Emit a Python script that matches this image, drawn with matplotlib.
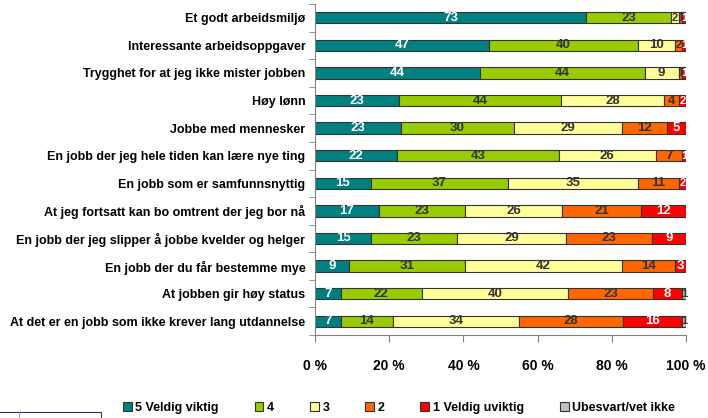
import numpy as np
import matplotlib.pyplot as plt
from matplotlib.patches import Rectangle

plt.rcParams['font.family'] = ['Liberation Sans Narrow', 'Liberation Sans', 'DejaVu Sans']
plt.rcParams['font.weight'] = 'bold'

categories = [
    'Et godt arbeidsmiljø',
    'Interessante arbeidsoppgaver',
    'Trygghet for at jeg ikke mister jobben',
    'Høy lønn',
    'Jobbe med mennesker',
    'En jobb der jeg hele tiden kan lære nye ting',
    'En jobb som er samfunnsnyttig',
    'At jeg fortsatt kan bo omtrent der jeg bor nå',
    'En jobb der jeg slipper å jobbe kvelder og helger',
    'En jobb der du får bestemme mye',
    'At jobben gir høy status',
    'At det er en jobb som ikke krever lang utdannelse',
]

series_names = ['5 Veldig viktig', '4', '3', '2', '1 Veldig uviktig', 'Ubesvart/vet ikke']

v5 = [73, 47, 44, 23, 23, 22, 15, 17, 15, 9, 7, 7]
v4 = [23, 40, 44, 44, 30, 43, 37, 23, 23, 31, 22, 14]
v3 = [2, 10, 9, 28, 29, 26, 35, 26, 29, 42, 40, 34]
v2 = [1, 2, 1, 4, 12, 7, 11, 21, 23, 14, 23, 28]
v1 = [1, 1, 1, 2, 5, 1, 2, 12, 9, 3, 8, 16]
v0 = [0, 0, 0, 0, 0, 0, 0, 0, 0, 0, 1, 1]

colors = ['#008080', '#99CC00', '#FFFF99', '#FF6600', '#FF0000', '#C0C0C0']
text_colors = ['white', '#333333', '#333333', '#333333', 'white', '#333333']

data = np.array([v5, v4, v3, v2, v1, v0], dtype=float)
pct = data / data.sum(axis=0) * 100  # 100 % stacked

fig = plt.figure(figsize=(7.08, 4.18), dpi=100)
ax = fig.add_axes([315 / 708, 83 / 418, 371 / 708, 331 / 418])

y = np.arange(len(categories))
left = np.zeros(len(categories))
handles = []
for i, name in enumerate(series_names):
    bars = ax.barh(y, pct[i], left=left, height=0.41, color=colors[i],
                   edgecolor='#333333', linewidth=0.8, label=name)
    handles.append(bars)
    for j in range(len(categories)):
        if data[i, j] > 0:
            # small segments get a slightly smaller number, as they crowd together
            fs = 9.5 if pct[i, j] >= 3 else 8
            ax.text(left[j] + pct[i, j] / 2, y[j], '%d' % data[i, j],
                    ha='center', va='center', fontsize=fs, fontweight='bold',
                    color=text_colors[i])
    left += pct[i]

ax.set_ylim(len(categories) - 0.5, -0.5)
ax.set_xlim(0, 100)
ax.set_yticks(y)
ax.set_yticklabels(categories, fontsize=9, fontweight='bold')
ax.set_yticks(np.arange(len(categories) + 1) - 0.5, minor=True)
ax.tick_params(axis='y', which='major', length=0, pad=7)
ax.tick_params(axis='y', which='minor', length=4, direction='out', color='#808080')

ax.set_xticks([0, 20, 40, 60, 80, 100])
ax.set_xticklabels(['0 %', '20 %', '40 %', '60 %', '80 %', '100 %'], fontsize=10, fontweight='bold')
ax.tick_params(axis='x', length=5, direction='out', color='#808080', pad=12)

for s in ['top', 'right']:
    ax.spines[s].set_visible(False)
ax.spines['left'].set_color('#808080')
ax.spines['bottom'].set_color('#808080')

fig.legend(handles=handles, loc='center', bbox_to_anchor=(0.5636, 0.025), ncol=6,
           frameon=False, fontsize=9, handlelength=0.7, handleheight=0.7,
           handletextpad=0.3, columnspacing=2.86, borderpad=0)

# stray box in the lower-left corner
fig.patches.append(Rectangle((-0.01, -0.02), 0.152, 0.035, transform=fig.transFigure,
                             fill=False, edgecolor='#1F3864', linewidth=0.8))
fig.lines.append(plt.Line2D([0.027, 0.027], [-0.02, 0.015], transform=fig.transFigure,
                            color='#A0A0A0', linewidth=0.8))

fig.savefig('out.png', dpi=100)
